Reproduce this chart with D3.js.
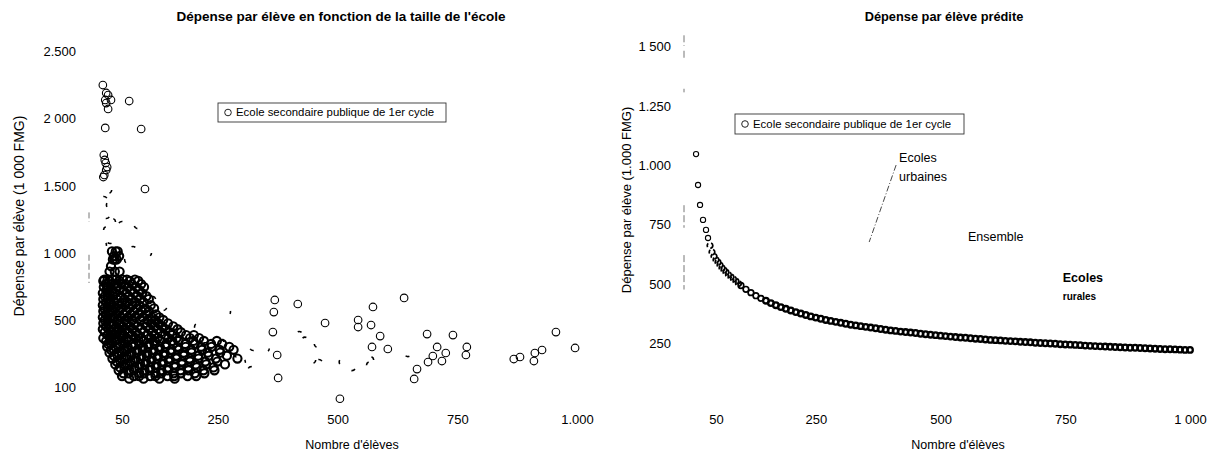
<!DOCTYPE html>
<html>
<head>
<meta charset="utf-8">
<script src="https://cdn.jsdelivr.net/npm/d3@7"></script>
<style>
  body { margin: 0; background: #fff; }
  svg { display: block; }
  text { font-family: "Liberation Sans", Arial, Helvetica, sans-serif; fill: #000; }
  .axis text { font-size: 13px; fill: #000; }
</style>
</head>
<body>
<svg id="chart" width="1220" height="455"></svg>
<script>
// ---------- Left panel: observed spending per pupil by school size ----------
const leftTitle = "Dépense par élève en fonction de la taille de l'école";
const leftYTicks = [100, 500, 1000, 1500, 2000, 2500];
const leftYTickLabels = ["100", "500", "1 000", "1.500", "2 000", "2.500"];
const leftXTicks = [50, 250, 500, 750, 1000];
const leftXTickLabels = ["50", "250", "500", "750", "1.000"];

// Small schools with very high spending
const smallHighSchools = [
  [10, 2247], [17, 2188], [21, 2173], [15, 2136], [27, 2136], [17, 2113], [21, 2069],
  [65, 2128], [15, 1928], [90, 1920], [12, 1727], [14, 1690], [16, 1667], [19, 1637],
  [17, 1615], [13, 1578], [11, 1563], [98, 1474]
];

// Dense cluster of small and medium schools: spending level -> school sizes
const clusterRows = [
  [1010, [29, 37, 41]],
  [975, [33, 44]],
  [950, [31, 39, 35]],
  [900, [27]],
  [860, [24, 35, 45]],
  [800, [13, 20, 31, 38, 52, 60, 77]],
  [790, [11, 24, 44, 66, 84]],
  [767, [16, 27, 35, 49, 57, 71, 90]],
  [745, [12, 21, 40, 62, 80, 96]],
  [722, [18, 30, 45, 53, 68, 86]],
  [700, [10, 24, 36, 58, 75, 92]],
  [677, [14, 20, 31, 47, 64, 82, 101]],
  [655, [11, 26, 39, 55, 70, 88, 106]],
  [632, [17, 23, 33, 50, 61, 78, 95]],
  [610, [10, 28, 42, 57, 72, 86, 110]],
  [587, [13, 20, 36, 48, 65, 80, 99, 117]],
  [565, [11, 25, 31, 44, 59, 74, 91, 106]],
  [542, [16, 22, 38, 53, 68, 84, 101, 121]],
  [520, [10, 27, 34, 47, 62, 77, 93, 112, 128]],
  [500, [14, 20, 41, 56, 70, 88, 104, 119, 136]],
  [480, [11, 24, 31, 46, 60, 75, 97, 111, 126, 146]],
  [462, [17, 28, 38, 52, 67, 83, 102, 118, 134, 157]],
  [445, [10, 22, 33, 44, 58, 72, 90, 108, 124, 141, 166]],
  [427, [14, 26, 39, 50, 64, 79, 96, 113, 131, 150, 173]],
  [410, [20, 31, 45, 52, 71, 84, 104, 117, 140, 155, 184, 200]],
  [392, [11, 25, 33, 49, 60, 79, 90, 111, 124, 147, 164, 192, 211]],
  [375, [17, 28, 36, 54, 63, 85, 95, 119, 130, 155, 168, 199, 221, 248]],
  [357, [21, 27, 45, 55, 74, 86, 107, 118, 142, 157, 182, 202, 236, 259]],
  [340, [19, 36, 43, 62, 72, 94, 105, 129, 141, 166, 183, 215, 237, 274]],
  [322, [27, 33, 53, 61, 82, 93, 116, 128, 153, 167, 195, 217, 254, 283]],
  [305, [24, 42, 50, 70, 81, 103, 114, 139, 152, 179, 195, 229, 255]],
  [287, [33, 41, 60, 69, 91, 102, 125, 138, 164, 179, 209, 231, 269]],
  [270, [30, 49, 58, 79, 89, 112, 124, 149, 163, 191, 210, 246, 291]],
  [252, [39, 47, 68, 77, 100, 111, 135, 148, 175, 192, 224, 249]],
  [235, [36, 57, 66, 88, 98, 122, 134, 160, 175, 204, 226, 265]],
  [217, [46, 55, 76, 86, 109, 121, 146, 160, 188, 206, 241]],
  [200, [43, 65, 75, 97, 108, 132, 145, 172, 189, 220, 243]],
  [182, [53, 64, 86, 96, 120, 132, 158, 173, 202, 222]],
  [165, [50, 75, 86, 109, 120, 145, 159, 187, 205]],
  [150, [65, 95, 128, 160]]
];

// Larger schools, scattered
const largeSchools = [
  [369, 649], [367, 559], [417, 619], [365, 428], [374, 291], [376, 154], [474, 482],
  [543, 500], [543, 458], [570, 470], [574, 597], [639, 664], [589, 404], [572, 339],
  [605, 327], [505, 30], [687, 416], [741, 410], [708, 339], [699, 285], [689, 249],
  [726, 303], [718, 255], [770, 339], [768, 291], [666, 207], [660, 148], [868, 267],
  [881, 279], [912, 303], [927, 321], [910, 255], [956, 428], [996, 333]
];

// Faintly printed marks (only part of the circle survives)
const faintSchools = [
  [21, 1467], [12, 1392], [25, 1355], [17, 1281], [29, 1229], [19, 1169], [25, 1095],
  [10, 1058], [50, 1206], [83, 1206], [104, 998], [73, 1020], [63, 946], [136, 597],
  [113, 649], [209, 460], [223, 385], [255, 369], [271, 339], [324, 339], [269, 560],
  [432, 376], [459, 357], [447, 261], [461, 243], [511, 249], [530, 219], [568, 261],
  [568, 230], [647, 303], [300, 250], [320, 200], [290, 300], [350, 330], [420, 410]
];

// ---------- Right panel: predicted spending per pupil ----------
const rightTitle = "Dépense par élève prédite";
const rightYTicks = [250, 500, 750, 1000, 1250, 1500];
const rightYTickLabels = ["250", "500", "750", "1.000", "1.250", "1 500"];
const rightXTicks = [50, 250, 500, 750, 1000];
const rightXTickLabels = ["50", "250", "500", "750", "1 000"];

const predictedSize = [
  10, 14, 18, 24, 30, 34, 38, 42, 46, 50, 54, 58, 62, 66, 70, 75, 80, 85, 90, 95,
  100, 110, 120, 130, 140, 150, 160, 170, 180, 190, 200, 210, 220, 230, 240, 250,
  260, 270, 280, 290, 300, 310, 320, 330, 340, 350, 360, 370, 380, 390, 400,
  410, 420, 430, 440, 450, 460, 470, 480, 490, 500, 510, 520, 530, 540, 550,
  560, 570, 580, 590, 600, 610, 620, 630, 640, 650, 660, 670, 680, 690, 700,
  710, 720, 730, 740, 750, 760, 770, 780, 790, 800, 810, 820, 830, 840, 850,
  860, 870, 880, 890, 900, 910, 920, 930, 940, 950, 960, 970, 980, 990, 1000
];
const predictedSpend = [
  1045, 915, 831, 768, 726, 692, 660, 633, 615, 600, 590, 578, 566, 557, 548, 537, 528, 519, 510, 500,
  492, 476, 462, 449, 438, 428, 418, 409, 401, 394, 387, 380, 374, 368, 362, 357,
  352, 347, 343, 339, 335, 331, 327, 324, 321, 318, 315, 312, 309, 306, 303,
  301, 298, 296, 294, 292, 289, 287, 285, 283, 281, 279, 277, 275, 273, 272,
  270, 268, 267, 265, 263, 262, 261, 259, 258, 257, 255, 254, 253, 251, 250,
  249, 248, 247, 245, 244, 243, 242, 241, 239, 238, 237, 236, 235, 234, 233,
  232, 231, 230, 230, 229, 228, 227, 226, 225, 224, 224, 223, 222, 221, 221
];

const legendLabel = "Ecole secondaire publique de 1er cycle";
const xTitle = "Nombre d'élèves";
const leftYTitle = "Dépense par élève (1 000 FMG)";
const rightYTitle = "Dépense par élève (1.000 FMG)";

// Faint remnants of the vertical axis lines (value ranges)
const leftAxisPieces = [[1300, 1230], [985, 775]];
const rightAxisPieces = [[1545, 1500], [1480, 1440], [1320, 1305], [830, 735], [620, 475]];

const svg = d3.select("#chart");

// ---------- scales ----------
const xL = d3.scaleLinear().domain([50, 1000]).range([122, 577]);
const yL = d3.scaleLinear().domain([100, 500, 2500]).range([387, 320, 51]);
const xR = d3.scaleLinear().domain([50, 1000]).range([716, 1190]);
const yR = d3.scaleLinear().domain([250, 1500]).range([343, 46]);

function drawAxes(x, y, xTicks, xLabels, yTicks, yLabels, axisX) {
  const ya = svg.append("g").attr("class", "axis")
    .attr("transform", `translate(${axisX},0)`)
    .call(d3.axisLeft(y).tickValues(yTicks).tickSize(0).tickPadding(3)
      .tickFormat((d, i) => yLabels[i]));
  ya.select(".domain").remove();
  ya.selectAll("text").attr("dy", "0.36em");
  const xa = svg.append("g").attr("class", "axis")
    .attr("transform", `translate(0,409)`)
    .call(d3.axisBottom(x).tickValues(xTicks).tickSize(0).tickPadding(6)
      .tickFormat((d, i) => xLabels[i]));
  xa.select(".domain").remove();
}

drawAxes(xL, yL, leftXTicks, leftXTickLabels, leftYTicks, leftYTickLabels, 79);
drawAxes(xR, yR, rightXTicks, rightXTickLabels, rightYTicks, rightYTickLabels, 674);

// axis line remnants
svg.append("g").selectAll("line").data(leftAxisPieces).join("line")
  .attr("x1", 89).attr("x2", 89)
  .attr("y1", d => yL(d[0])).attr("y2", d => yL(d[1]))
  .attr("stroke", "#777").attr("stroke-width", 1).attr("stroke-dasharray", "6,3");
svg.append("g").selectAll("line").data(rightAxisPieces).join("line")
  .attr("x1", 684).attr("x2", 684)
  .attr("y1", d => yR(d[0])).attr("y2", d => yR(d[1]))
  .attr("stroke", "#777").attr("stroke-width", 1).attr("stroke-dasharray", "7,3");

// ---------- titles ----------
svg.append("text").attr("x", 341).attr("y", 21).attr("text-anchor", "middle")
  .attr("font-size", "13.5px").attr("font-weight", "bold").text(leftTitle);
svg.append("text").attr("x", 944).attr("y", 21).attr("text-anchor", "middle")
  .attr("font-size", "12.8px").attr("font-weight", "bold").text(rightTitle);

svg.append("text").attr("x", 352).attr("y", 449).attr("text-anchor", "middle")
  .attr("font-size", "12.5px").text(xTitle);
svg.append("text").attr("x", 958).attr("y", 449).attr("text-anchor", "middle")
  .attr("font-size", "12.5px").text(xTitle);

svg.append("text").attr("transform", "translate(24,216) rotate(-90)")
  .attr("text-anchor", "middle").attr("font-size", "14px").text(leftYTitle);
svg.append("text").attr("transform", "translate(631,200) rotate(-90)")
  .attr("text-anchor", "middle").attr("font-size", "13px").text(rightYTitle);

// ---------- left scatter ----------
const cluster = clusterRows.flatMap(([v, sizes]) => sizes.map(n => [n, v]));
const gL = svg.append("g").attr("fill", "none").attr("stroke", "#000");
gL.selectAll("circle.c").data(cluster).join("circle").attr("class", "c")
  .attr("cx", d => xL(d[0])).attr("cy", d => yL(d[1])).attr("r", 4.1)
  .attr("stroke-width", 2.1);
gL.selectAll("circle.f").data(faintSchools).join("circle").attr("class", "f")
  .attr("cx", d => xL(d[0])).attr("cy", d => yL(d[1])).attr("r", 3.6)
  .attr("stroke-width", 1.6)
  .attr("stroke-dasharray", "4,19")
  .attr("stroke-dashoffset", (d, i) => (i * 7) % 23);
gL.selectAll("circle.h").data(smallHighSchools).join("circle").attr("class", "h")
  .attr("cx", d => xL(d[0])).attr("cy", d => yL(d[1])).attr("r", 3.8)
  .attr("stroke-width", 1.1);
gL.selectAll("circle.l").data(largeSchools).join("circle").attr("class", "l")
  .attr("cx", d => xL(d[0])).attr("cy", d => yL(d[1])).attr("r", 3.8)
  .attr("stroke-width", 1.1);

// ---------- right curve ----------
const predicted = predictedSize.map((n, i) => [n, predictedSpend[i]]);
svg.append("g").attr("fill", "none").attr("stroke", "#000")
  .selectAll("circle").data(predicted).join("circle")
  .attr("cx", d => xR(d[0])).attr("cy", d => yR(d[1]))
  .attr("r", d => d[0] <= 34 ? 2.6 : 2.8)
  .attr("stroke-width", d => d[0] <= 34 ? 1.1 : (d[0] < 150 ? 1.7 : 2.3))
  .attr("stroke-dasharray", d => (d[0] > 34 && d[0] < 100) ? "4,3" : null);

// ---------- legends ----------
function legend(x0, y0, w, h) {
  const g = svg.append("g");
  g.append("rect").attr("x", x0).attr("y", y0).attr("width", w).attr("height", h)
    .attr("fill", "#fff").attr("stroke", "#333").attr("stroke-width", 0.9);
  g.append("circle").attr("cx", x0 + 10).attr("cy", y0 + h / 2).attr("r", 3.3)
    .attr("fill", "none").attr("stroke", "#222").attr("stroke-width", 1);
  g.append("text").attr("x", x0 + 18).attr("y", y0 + h / 2).attr("dy", "0.35em")
    .attr("font-size", "11.4px").text(legendLabel);
}
legend(218, 103, 228, 19);
legend(735, 114, 229, 20);

// ---------- annotations on the predicted panel ----------
svg.append("line")
  .attr("x1", xR(411)).attr("y1", yR(999)).attr("x2", xR(357)).attr("y2", yR(675))
  .attr("stroke", "#333").attr("stroke-width", 0.9).attr("stroke-dasharray", "6,2,1,2");
svg.append("text").attr("x", xR(417)).attr("y", yR(1030)).attr("dy", "0.35em")
  .attr("font-size", "12.5px").text("Ecoles");
svg.append("text").attr("x", xR(417)).attr("y", yR(949)).attr("dy", "0.35em")
  .attr("font-size", "12.5px").text("urbaines");
svg.append("text").attr("x", xR(555)).attr("y", yR(696)).attr("dy", "0.35em")
  .attr("font-size", "12.5px").text("Ensemble");
svg.append("text").attr("x", xR(745)).attr("y", yR(524)).attr("dy", "0.35em")
  .attr("font-size", "12.5px").attr("font-weight", "bold").text("Ecoles");
svg.append("text").attr("x", xR(745)).attr("y", yR(444)).attr("dy", "0.35em")
  .attr("font-size", "10px").attr("font-weight", "bold").text("rurales");
</script>
</body>
</html>
